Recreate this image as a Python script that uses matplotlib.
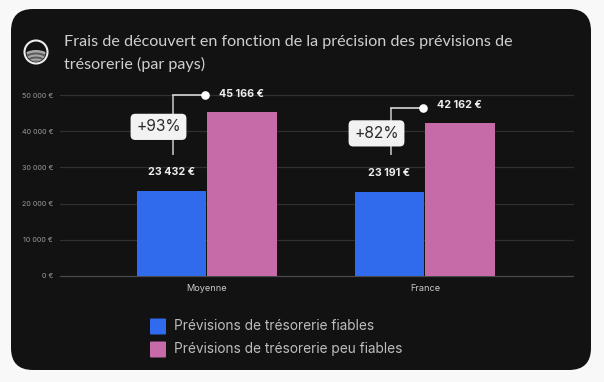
import matplotlib
matplotlib.use("Agg")
import matplotlib.pyplot as plt
from matplotlib.patches import FancyBboxPatch, Circle, Wedge
import numpy as np

categories = ["Moyenne", "France"]
fiables = [23432, 23191]
peu_fiables = [45166, 42162]
fiables_labels = ["23 432 €", "23 191 €"]
peu_fiables_labels = ["45 166 €", "42 162 €"]
deltas = ["+93%", "+82%"]
yticks = [0, 10000, 20000, 30000, 40000, 50000]
ytick_labels = ["0 €", "10 000 €", "20 000 €", "30 000 €", "40 000 €", "50 000 €"]
series_names = ["Prévisions de trésorerie fiables", "Prévisions de trésorerie peu fiables"]
title = "Frais de découvert en fonction de la précision des prévisions de\ntrésorerie (par pays)"

W, H = 604, 382
BLUE, PINK = "#2F6BEC", "#C76BA8"
CARD = "#121212"

fig = plt.figure(figsize=(W/100, H/100), dpi=100, facecolor="#F8F8F8")
bg = fig.add_axes([0, 0, 1, 1], zorder=0)
bg.set_xlim(0, W); bg.set_ylim(H, 0); bg.axis("off")
bg.add_patch(FancyBboxPatch((11+22, 9+22), 580-44, 361-44, boxstyle="round,pad=22,rounding_size=22",
                            fc=CARD, ec="none"))
bg.text(64.5, 42, title.split("\n")[0], family="Lato", fontsize=11.6, color="#CFCFCF", va="center", ha="left")
bg.text(64.5, 64, title.split("\n")[1], family="Lato", fontsize=11.6, color="#CFCFCF", va="center", ha="left")

# logo
cx, cy = 36, 52
bg.add_patch(Circle((cx, cy), 11.5, fc="none", ec="#EDEDED", lw=1.5))
clip = Circle((cx, cy), 9.5, transform=bg.transData)
for r, c in [(24, "#A8A8A8"), (21.5, "#5A5A5A"), (19.5, "#A8A8A8"), (17.5, "#5A5A5A"), (15.5, "#A8A8A8"),
             (13.5, "#5A5A5A"), (11.5, "#A8A8A8"), (9.5, "#5A5A5A"), (7.5, "#A8A8A8"), (5, "#5A5A5A")]:
    w = Wedge((cx, cy+22), r, 180, 360, fc=c, ec="none")
    bg.add_patch(w); w.set_clip_path(clip)

# data axes: left 60, right 573, y=0 at 276, 50000 at 95
ax = fig.add_axes([60/W, 1-276/H, 513/W, 181/H], zorder=1)
ax.patch.set_alpha(0)
x = np.arange(len(categories))
px = 218.0
ax.set_xlim(-147/px, 366/px)
ax.set_ylim(0, 50000)
ax.bar(x-35.25/px, fiables, 69.5/px, color=BLUE, zorder=3)
ax.bar(x+35.25/px, peu_fiables, 69.5/px, color=PINK, zorder=3)
ax.set_yticks(yticks, ytick_labels)
ax.set_xticks(x, categories)
ax.tick_params(length=0)
ax.tick_params(axis="y", labelsize=5.2, labelcolor="#9A9A9A", pad=5)
ax.tick_params(axis="x", labelsize=6.6, labelcolor="#C8C8C8", pad=6)
for lab in ax.get_yticklabels() + ax.get_xticklabels():
    lab.set_family("Inter")
ax.grid(axis="y", color="#303030", lw=0.9, zorder=1)
for g in ax.get_ygridlines():
    g.set_clip_on(False)
ax.get_ygridlines()[0].set_color("#4A4A4A")
for s in ax.spines.values():
    s.set_visible(False)

# callouts per category
conn_top = [50000, 46300]
box_mid = [41200, 39400]
label_top_y = [50300, 47300]
for i in range(2):
    xc = x[i] - 34/px
    ax.plot([xc, xc], [33500, conn_top[i]], color="#BDBDBD", lw=1.2, zorder=4, clip_on=False, solid_capstyle="butt")
    ax.plot([xc, x[i]-2/px], [conn_top[i]]*2, color="#D8D8D8", lw=1.2, zorder=4, clip_on=False)
    ax.plot([x[i]-2/px], [conn_top[i]], "o", color="white", ms=6.2, mec="none", zorder=5, clip_on=False)
    ax.text(x[i]+34.5/px, label_top_y[i], peu_fiables_labels[i], family="Inter", fontsize=7.7, fontweight="bold",
            color="#EDEDED", ha="center", va="center", zorder=6)
    ax.text(x[i]-35.5/px, 28600 if i == 0 else 28500, fiables_labels[i], family="Inter", fontsize=7.7, fontweight="bold",
            color="#EDEDED", ha="center", va="center", zorder=6)
    ax.text(xc-14.5/px, box_mid[i], deltas[i], family="Inter", fontsize=11.2, color="#2A2A2A", ha="center", va="center", zorder=7,
            bbox=dict(boxstyle="round,pad=0.36,rounding_size=0.3", fc="#F2F2F2", ec="none"))

# legend
for yy, c, name in zip((326.5, 349.5), (BLUE, PINK), series_names):
    bg.add_patch(FancyBboxPatch((151, yy-7), 14, 14, boxstyle="round,pad=1,rounding_size=1", fc=c, ec="none"))
    bg.text(174.5, yy, name, family="Inter", fontsize=9.85, color="#BDBDBD", va="center", ha="left")

fig.savefig("out.png", dpi=100, facecolor=fig.get_facecolor())
